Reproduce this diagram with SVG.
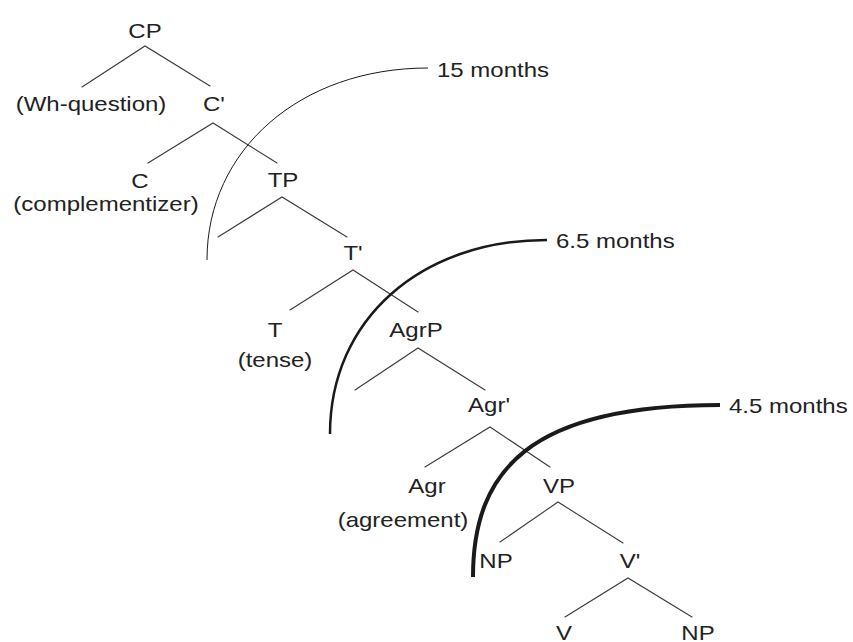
<svg xmlns="http://www.w3.org/2000/svg" width="853" height="642" viewBox="0 0 853 642">
<style>
text{font-family:"Liberation Sans",Arial,sans-serif;font-size:20px;fill:#222}
.m{text-anchor:middle}
.s{text-anchor:start}
.e{stroke:#3a3a3a;stroke-width:1.1;fill:none;stroke-linecap:round}
.arc{stroke:#1a1a1a;fill:none}
</style>
<rect width="853" height="642" fill="#fff"/>
<g id="connectors">
<polyline class="e" points="82,87 145,46 210,86"/>
<polyline class="e" points="148,163 213,123 277,163"/>
<polyline class="e" points="218,237 282,197 347,237"/>
<polyline class="e" points="290,310 353,270 418,312"/>
<polyline class="e" points="355,390 418,348 485,390"/>
<polyline class="e" points="425,467 490,427 550,467"/>
<polyline class="e" points="500,542 558,502 623,543"/>
<polyline class="e" points="565,617 628,578 692,617"/>
</g>
<g id="CP"><text class="m" transform="translate(145,38) scale(1.2,1)">CP</text></g>
<g id="WhQ"><text class="m" transform="translate(91,111) scale(1.2,1)">(Wh-question)</text></g>
<g id="Cbar"><text class="m" transform="translate(214,111) scale(1.2,1)">C'</text></g>
<g id="C"><text class="m" transform="translate(140,188) scale(1.2,1)">C</text><text class="m" transform="translate(106,211) scale(1.2,1)">(complementizer)</text></g>
<g id="TP"><text class="m" transform="translate(283,187) scale(1.2,1)">TP</text></g>
<g id="Tbar"><text class="m" transform="translate(353,260) scale(1.2,1)">T'</text></g>
<g id="T"><text class="m" transform="translate(275,337) scale(1.2,1)">T</text><text class="m" transform="translate(275,367) scale(1.2,1)">(tense)</text></g>
<g id="AgrP"><text class="m" transform="translate(416,337) scale(1.2,1)">AgrP</text></g>
<g id="Agrbar"><text class="m" transform="translate(489,412) scale(1.2,1)">Agr'</text></g>
<g id="Agr"><text class="m" transform="translate(427,493) scale(1.2,1)">Agr</text><text class="m" transform="translate(403,527) scale(1.2,1)">(agreement)</text></g>
<g id="VP"><text class="m" transform="translate(559,493) scale(1.2,1)">VP</text></g>
<g id="NP1"><text class="m" transform="translate(496,568) scale(1.2,1)">NP</text></g>
<g id="Vbar"><text class="m" transform="translate(630,568) scale(1.2,1)">V'</text></g>
<g id="V"><text class="m" transform="translate(564,640) scale(1.2,1)">V</text></g>
<g id="NP2"><text class="m" transform="translate(698,640) scale(1.2,1)">NP</text></g>
<g id="stage-15">
<path class="arc" stroke-width="1" d="M207,260 C207,150 300,68 428,68"/>
<text class="s" transform="translate(437,77) scale(1.2,1)">15 months</text>
</g>
<g id="stage-6-5">
<path class="arc" stroke-width="2.5" d="M330,434 C330,320 420,240 547,240"/>
<text class="s" transform="translate(556,248) scale(1.2,1)">6.5 months</text>
</g>
<g id="stage-4-5">
<path class="arc" stroke-width="4" d="M473,577 C473,470 530,405 720,405"/>
<text class="s" transform="translate(729,413) scale(1.2,1)">4.5 months</text>
</g>
</svg>
